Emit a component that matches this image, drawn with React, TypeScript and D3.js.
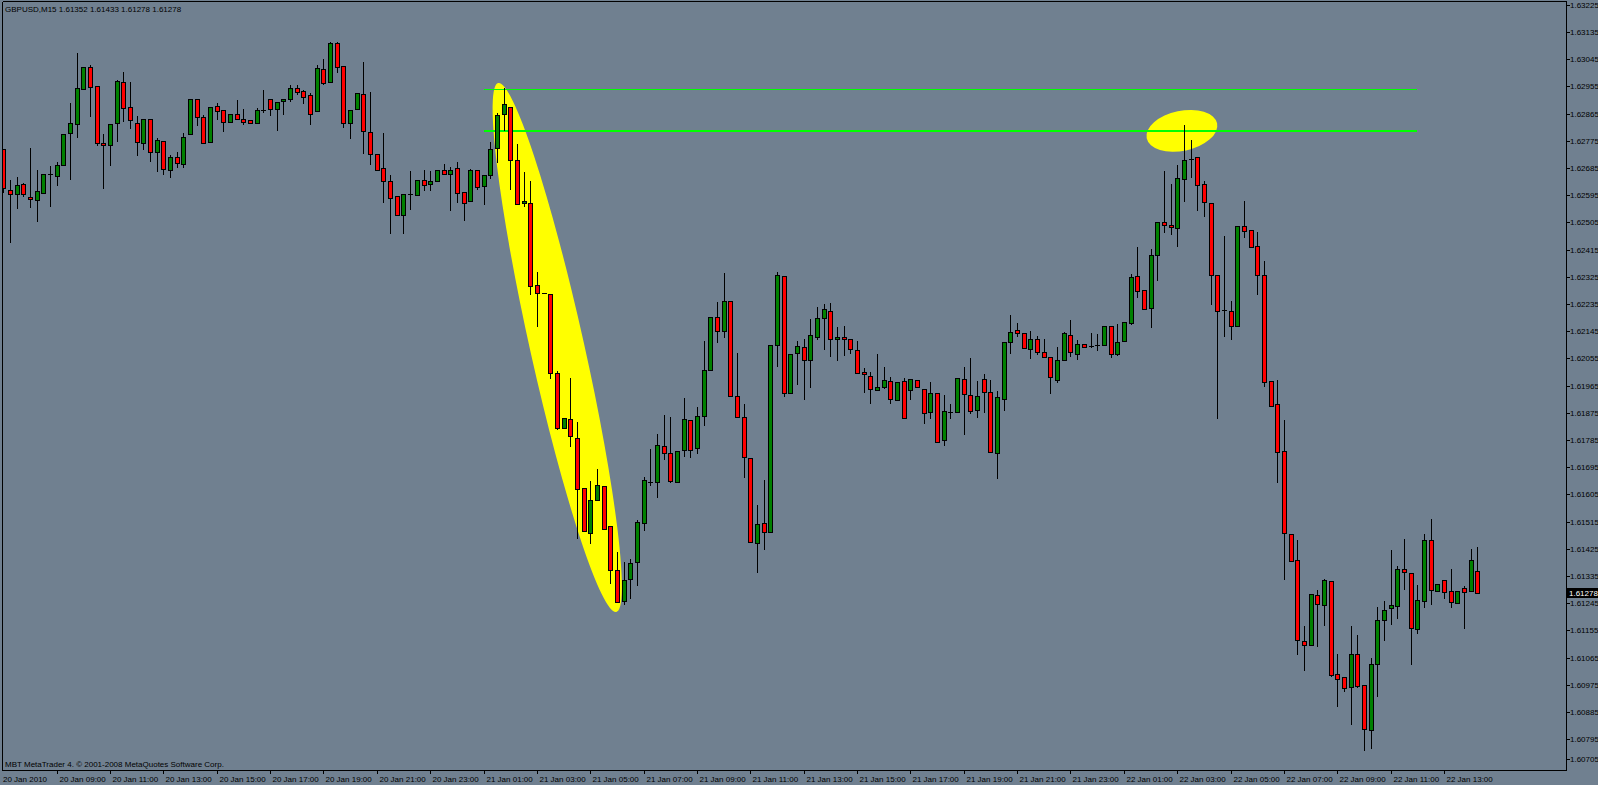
import React from 'react';
import * as d3 from 'd3';

const W = 1598;
const H = 785;

const headerText = 'GBPUSD,M15  1.61352 1.61433 1.61278 1.61278';
const footerText = 'MBT MetaTrader 4. \u00A9 2001-2008 MetaQuotes Software Corp.';

const timeLabels = [
  '20 Jan 2010', '20 Jan 09:00', '20 Jan 11:00', '20 Jan 13:00', '20 Jan 15:00', '20 Jan 17:00',
  '20 Jan 19:00', '20 Jan 21:00', '20 Jan 23:00', '21 Jan 01:00', '21 Jan 03:00', '21 Jan 05:00',
  '21 Jan 07:00', '21 Jan 09:00', '21 Jan 11:00', '21 Jan 13:00', '21 Jan 15:00', '21 Jan 17:00',
  '21 Jan 19:00', '21 Jan 21:00', '21 Jan 23:00', '22 Jan 01:00', '22 Jan 03:00', '22 Jan 05:00',
  '22 Jan 07:00', '22 Jan 09:00', '22 Jan 11:00', '22 Jan 13:00',
];
const barsPerLabel = 8;

const priceTicks = [
  1.63225, 1.63135, 1.63045, 1.62955, 1.62865, 1.62775, 1.62685, 1.62595, 1.62505, 1.62415,
  1.62325, 1.62235, 1.62145, 1.62055, 1.61965, 1.61875, 1.61785, 1.61695, 1.61605, 1.61515,
  1.61425, 1.61335, 1.61245, 1.61155, 1.61065, 1.60975, 1.60885, 1.60795, 1.60705,
];

const opens = [
  1.62748, 1.62612, 1.62599, 1.62632, 1.62589, 1.62579, 1.62602, 1.62665, 1.62659, 1.62695,
  1.62801, 1.62831, 1.62946, 1.63019, 1.62956, 1.62768, 1.62761, 1.62834, 1.62970, 1.62887,
  1.62834, 1.62768, 1.62847, 1.62738, 1.62774, 1.62679, 1.62721, 1.62698, 1.62798, 1.62913,
  1.62854, 1.62771, 1.62890, 1.62877, 1.62837, 1.62864, 1.62847, 1.62844, 1.62834, 1.62877,
  1.62913, 1.62880, 1.62907, 1.62913, 1.62950, 1.62940, 1.62927, 1.62874, 1.63013, 1.62970,
  1.63099, 1.63023, 1.62834, 1.62880, 1.62930, 1.62804, 1.62731, 1.62685, 1.62642, 1.62592,
  1.62530, 1.62599, 1.62596, 1.62645, 1.62632, 1.62642, 1.62679, 1.62665, 1.62685, 1.62606,
  1.62576, 1.62679, 1.62626, 1.62662, 1.62751, 1.62864, 1.62887, 1.62712, 1.62569, 1.62569,
  1.62298, 1.62271, 1.62268, 1.62007, 1.61825, 1.61854, 1.61792, 1.61626, 1.61477, 1.61587,
  1.61633, 1.61501, 1.61355, 1.61252, 1.61325, 1.61381, 1.61510, 1.61646, 1.61646, 1.61765,
  1.61742, 1.61646, 1.61752, 1.61851, 1.61759, 1.61865, 1.62017, 1.62192, 1.62146, 1.62245,
  1.61931, 1.61861, 1.61726, 1.61444, 1.61510, 1.61481, 1.62099, 1.62328, 1.61941, 1.62073,
  1.62093, 1.62050, 1.62126, 1.62189, 1.62212, 1.62119, 1.62126, 1.62119, 1.62083, 1.62010,
  1.61997, 1.61951, 1.61960, 1.61980, 1.61917, 1.61980, 1.61951, 1.61984, 1.61954, 1.61878,
  1.61941, 1.61785, 1.61878, 1.61878, 1.61987, 1.61934, 1.61884, 1.61987, 1.61944, 1.61742,
  1.61921, 1.62109, 1.62149, 1.62139, 1.62086, 1.62119, 1.62076, 1.62060, 1.61984, 1.62050,
  1.62132, 1.62070, 1.62103, 1.62096, 1.62099, 1.62099, 1.62162, 1.62070, 1.62113, 1.62172,
  1.62328, 1.62281, 1.62222, 1.62397, 1.62506, 1.62497, 1.62487, 1.62649, 1.62715, 1.62721,
  1.62632, 1.62569, 1.62331, 1.62215, 1.62212, 1.62162, 1.62493, 1.62480, 1.62427, 1.62331,
  1.61980, 1.61904, 1.61749, 1.61474, 1.61388, 1.61120, 1.61107, 1.61272, 1.61239, 1.61319,
  1.61011, 1.61001, 1.60968, 1.61077, 1.60974, 1.60825, 1.61044, 1.61189, 1.61229, 1.61236,
  1.61358, 1.61345, 1.61160, 1.61252, 1.61454, 1.61285, 1.61322, 1.61285, 1.61246, 1.61295,
  1.61285, 1.61352,
];

const highs = [
  1.62748, 1.62649, 1.62659, 1.62639, 1.62755, 1.62682, 1.62665, 1.62695, 1.62708, 1.62798,
  1.62903, 1.63069, 1.63019, 1.63029, 1.62956, 1.62801, 1.62831, 1.62980, 1.63006, 1.62973,
  1.62861, 1.62847, 1.62847, 1.62788, 1.62774, 1.62731, 1.62741, 1.62804, 1.62913, 1.62913,
  1.62864, 1.62887, 1.62903, 1.62880, 1.62864, 1.62913, 1.62884, 1.62844, 1.62887, 1.62946,
  1.62913, 1.62903, 1.62913, 1.62963, 1.62963, 1.62946, 1.62937, 1.63029, 1.63049, 1.63105,
  1.63105, 1.63026, 1.62880, 1.62933, 1.63039, 1.62940, 1.62731, 1.62804, 1.62665, 1.62592,
  1.62602, 1.62679, 1.62645, 1.62682, 1.62679, 1.62679, 1.62702, 1.62692, 1.62708, 1.62606,
  1.62685, 1.62679, 1.62665, 1.62774, 1.62870, 1.62953, 1.62887, 1.62768, 1.62675, 1.62645,
  1.62344, 1.62271, 1.62268, 1.62017, 1.61858, 1.61993, 1.61848, 1.61626, 1.61653, 1.61692,
  1.61633, 1.61501, 1.61418, 1.61385, 1.61395, 1.61524, 1.61666, 1.61759, 1.61808, 1.61871,
  1.61865, 1.61749, 1.61927, 1.61854, 1.61898, 1.62116, 1.62192, 1.62245, 1.62341, 1.62245,
  1.62076, 1.61908, 1.61726, 1.61573, 1.61656, 1.62099, 1.62344, 1.62328, 1.62070, 1.62116,
  1.62123, 1.62189, 1.62228, 1.62238, 1.62242, 1.62162, 1.62166, 1.62119, 1.62116, 1.62027,
  1.62013, 1.62073, 1.62030, 1.61997, 1.61977, 1.61993, 1.61990, 1.61984, 1.61954, 1.61980,
  1.61941, 1.61937, 1.61908, 1.61990, 1.62030, 1.62060, 1.61984, 1.62007, 1.61987, 1.61951,
  1.62113, 1.62202, 1.62176, 1.62139, 1.62149, 1.62132, 1.62123, 1.62060, 1.62096, 1.62146,
  1.62185, 1.62119, 1.62103, 1.62142, 1.62139, 1.62162, 1.62166, 1.62172, 1.62176, 1.62338,
  1.62427, 1.62281, 1.62420, 1.62506, 1.62679, 1.62635, 1.62698, 1.62831, 1.62781, 1.62725,
  1.62645, 1.62569, 1.62331, 1.62463, 1.62248, 1.62493, 1.62579, 1.62480, 1.62477, 1.62381,
  1.61980, 1.61987, 1.61854, 1.61474, 1.61457, 1.61173, 1.61276, 1.61292, 1.61328, 1.61322,
  1.61080, 1.61001, 1.61173, 1.61143, 1.60974, 1.61067, 1.61236, 1.61256, 1.61424, 1.61371,
  1.61461, 1.61345, 1.61309, 1.61477, 1.61527, 1.61309, 1.61322, 1.61361, 1.61285, 1.61305,
  1.61428, 1.61433,
];

const lows = [
  1.62606, 1.62440, 1.62553, 1.62592, 1.62556, 1.62510, 1.62602, 1.62559, 1.62629, 1.62695,
  1.62649, 1.62788, 1.62946, 1.62857, 1.62761, 1.62619, 1.62695, 1.62774, 1.62841, 1.62817,
  1.62728, 1.62748, 1.62708, 1.62675, 1.62665, 1.62655, 1.62688, 1.62688, 1.62798, 1.62827,
  1.62768, 1.62771, 1.62847, 1.62808, 1.62837, 1.62847, 1.62831, 1.62834, 1.62834, 1.62870,
  1.62861, 1.62811, 1.62864, 1.62907, 1.62930, 1.62900, 1.62831, 1.62874, 1.62963, 1.62970,
  1.63003, 1.62821, 1.62784, 1.62880, 1.62735, 1.62698, 1.62679, 1.62573, 1.62470, 1.62530,
  1.62470, 1.62549, 1.62596, 1.62612, 1.62612, 1.62642, 1.62665, 1.62546, 1.62573, 1.62513,
  1.62576, 1.62616, 1.62566, 1.62652, 1.62705, 1.62811, 1.62616, 1.62566, 1.62559, 1.62268,
  1.62162, 1.62271, 1.61990, 1.61821, 1.61825, 1.61765, 1.61461, 1.61484, 1.61444, 1.61587,
  1.61491, 1.61312, 1.61249, 1.61242, 1.61262, 1.61305, 1.61487, 1.61636, 1.61596, 1.61722,
  1.61646, 1.61646, 1.61732, 1.61729, 1.61742, 1.61835, 1.62017, 1.62109, 1.62126, 1.61931,
  1.61861, 1.61663, 1.61448, 1.61348, 1.61424, 1.61481, 1.62030, 1.61931, 1.61941, 1.61970,
  1.61921, 1.61960, 1.62119, 1.62086, 1.62063, 1.62050, 1.62066, 1.62073, 1.62007, 1.61944,
  1.61908, 1.61951, 1.61957, 1.61908, 1.61917, 1.61858, 1.61921, 1.61960, 1.61841, 1.61858,
  1.61778, 1.61769, 1.61858, 1.61878, 1.61805, 1.61874, 1.61861, 1.61878, 1.61745, 1.61659,
  1.61884, 1.62073, 1.62129, 1.62090, 1.62056, 1.62070, 1.62060, 1.61941, 1.61977, 1.62050,
  1.62063, 1.62053, 1.62093, 1.62093, 1.62083, 1.62099, 1.62060, 1.62066, 1.62113, 1.62169,
  1.62258, 1.62219, 1.62159, 1.62315, 1.62473, 1.62467, 1.62427, 1.62576, 1.62655, 1.62546,
  1.62526, 1.62235, 1.61858, 1.62129, 1.62119, 1.62162, 1.62457, 1.62424, 1.62268, 1.61964,
  1.61898, 1.61646, 1.61325, 1.61385, 1.61077, 1.61024, 1.61107, 1.61103, 1.61173, 1.61004,
  1.60905, 1.60955, 1.60845, 1.60968, 1.60759, 1.60766, 1.60938, 1.61123, 1.61176, 1.61196,
  1.61292, 1.61044, 1.61146, 1.61232, 1.61242, 1.61285, 1.61262, 1.61232, 1.61246, 1.61163,
  1.61285, 1.61278,
];

const closes = [
  1.62619, 1.62599, 1.62629, 1.62599, 1.62583, 1.62609, 1.62665, 1.62665, 1.62695, 1.62798,
  1.62834, 1.62950, 1.63019, 1.62953, 1.62768, 1.62761, 1.62831, 1.62973, 1.62884, 1.62844,
  1.62771, 1.62847, 1.62738, 1.62778, 1.62682, 1.62721, 1.62702, 1.62788, 1.62913, 1.62854,
  1.62768, 1.62887, 1.62874, 1.62837, 1.62864, 1.62847, 1.62837, 1.62834, 1.62877, 1.62877,
  1.62880, 1.62903, 1.62913, 1.62950, 1.62937, 1.62920, 1.62864, 1.63016, 1.62966, 1.63099,
  1.63019, 1.62834, 1.62877, 1.62933, 1.62808, 1.62731, 1.62679, 1.62642, 1.62586, 1.62530,
  1.62599, 1.62599, 1.62645, 1.62629, 1.62642, 1.62679, 1.62665, 1.62679, 1.62602, 1.62569,
  1.62679, 1.62622, 1.62662, 1.62748, 1.62861, 1.62897, 1.62712, 1.62566, 1.62576, 1.62295,
  1.62271, 1.62271, 1.62007, 1.61825, 1.61858, 1.61798, 1.61623, 1.61484, 1.61587, 1.61636,
  1.61491, 1.61355, 1.61249, 1.61322, 1.61378, 1.61514, 1.61653, 1.61646, 1.61769, 1.61742,
  1.61649, 1.61749, 1.61854, 1.61752, 1.61865, 1.62017, 1.62192, 1.62146, 1.62245, 1.61931,
  1.61861, 1.61729, 1.61448, 1.61507, 1.61481, 1.62099, 1.62331, 1.61941, 1.62070, 1.62096,
  1.62050, 1.62132, 1.62189, 1.62219, 1.62119, 1.62126, 1.62119, 1.62086, 1.62007, 1.62003,
  1.61954, 1.61960, 1.61984, 1.61921, 1.61977, 1.61858, 1.61987, 1.61960, 1.61874, 1.61941,
  1.61778, 1.61881, 1.61878, 1.61990, 1.61937, 1.61881, 1.61931, 1.61944, 1.61745, 1.61927,
  1.62109, 1.62142, 1.62139, 1.62090, 1.62119, 1.62076, 1.62060, 1.61993, 1.62050, 1.62139,
  1.62076, 1.62103, 1.62093, 1.62096, 1.62099, 1.62162, 1.62070, 1.62109, 1.62176, 1.62324,
  1.62278, 1.62219, 1.62397, 1.62506, 1.62497, 1.62490, 1.62652, 1.62712, 1.62715, 1.62629,
  1.62573, 1.62331, 1.62212, 1.62215, 1.62162, 1.62493, 1.62477, 1.62424, 1.62331, 1.61977,
  1.61898, 1.61745, 1.61477, 1.61385, 1.61123, 1.61107, 1.61276, 1.61242, 1.61322, 1.61007,
  1.60994, 1.60964, 1.61077, 1.60971, 1.60829, 1.61044, 1.61189, 1.61222, 1.61239, 1.61358,
  1.61348, 1.61163, 1.61256, 1.61454, 1.61289, 1.61309, 1.61282, 1.61249, 1.61285, 1.61282,
  1.61388, 1.61278,
];

// horizontal levels (price) and the bar range they span
const levelPrices = [1.62946, 1.62808];
const levelBarRange = [72, 212];

// yellow annotation ellipse along the sell-off: tip bars & prices
const swingEllipseBars = [74.2, 91.9];
const swingEllipsePrices = [1.62966, 1.61216];
// small yellow ellipse around the retest
const retestBar = 176.7;
const retestPrice = 1.62808;

const lastPrice = 1.61278;

const BG = '#708090';
const FONT = '"Liberation Sans", Arial, sans-serif';

export default function App() {
  const n = opens.length;
  const plotLeft = 2.5;
  const plotRight = 1566.5;
  const plotTop = 1.5;
  const plotBottom = 770.5;

  const x = d3.scaleLinear().domain([0, n - 1]).range([3.3, 3.3 + 6.67 * (n - 1)]);
  const y = d3.scaleLinear().domain([1.60795, 1.63225]).range([739.2, 4.8]);

  const ex1 = x(swingEllipseBars[0]);
  const ey1 = y(swingEllipsePrices[0]);
  const ex2 = x(swingEllipseBars[1]);
  const ey2 = y(swingEllipsePrices[1]);
  const ecx = (ex1 + ex2) / 2;
  const ecy = (ey1 + ey2) / 2;
  const elen = Math.hypot(ex2 - ex1, ey2 - ey1) / 2;
  const eang = (Math.atan2(ex2 - ex1, ey2 - ey1) * 180) / Math.PI;

  const candles = d3.range(n).map((i) => {
    const o = opens[i];
    const c = closes[i];
    const h = highs[i];
    const l = lows[i];
    const r = Math.round(x(i));
    const wx = r + 0.5;
    const yH = Math.round(y(h)) + 0.5;
    const yL = Math.round(y(l)) + 0.5;
    if (Math.abs(o - c) < 0.000005) {
      const yo = Math.round(y(o)) + 0.5;
      return (
        <g key={i}>
          <line x1={wx} x2={wx} y1={yH} y2={yL} stroke="#000" strokeWidth={1} />
          <line x1={r - 2} x2={r + 3} y1={yo} y2={yo} stroke="#000" strokeWidth={1} />
        </g>
      );
    }
    const up = c > o;
    const yTop = Math.round(y(Math.max(o, c))) + 0.5;
    const yBot = Math.round(y(Math.min(o, c))) + 0.5;
    return (
      <g key={i}>
        <line x1={wx} x2={wx} y1={yH} y2={yL} stroke="#000" strokeWidth={1} />
        <rect
          x={r - 1.5}
          y={yTop}
          width={4}
          height={Math.max(1, yBot - yTop)}
          fill={up ? '#008000' : '#FF0000'}
          stroke="#000"
          strokeWidth={1}
        />
      </g>
    );
  });

  const lastY = y(lastPrice);

  return (
    <svg
      width={W}
      height={H}
      style={{ position: 'fixed', left: 0, top: 0, display: 'block' }}
      fontFamily={FONT}
    >
      <rect x={0} y={0} width={W} height={H} fill={BG} />
      <defs>
        <clipPath id="plot">
          <rect x={plotLeft} y={plotTop} width={plotRight - plotLeft} height={plotBottom - plotTop} />
        </clipPath>
      </defs>

      <g clipPath="url(#plot)">
        <ellipse
          cx={ecx}
          cy={ecy}
          rx={27}
          ry={elen}
          fill="#FFFF00"
          transform={`rotate(${-eang} ${ecx} ${ecy})`}
        />
        <ellipse
          cx={x(retestBar)}
          cy={y(retestPrice)}
          rx={36}
          ry={20}
          fill="#FFFF00"
          transform={`rotate(-12 ${x(retestBar)} ${y(retestPrice)})`}
        />
        {levelPrices.map((p, k) => {
          const yy = Math.round(y(p)) + (k === 0 ? 0.5 : 0);
          return (
            <line
              key={k}
              x1={x(levelBarRange[0])}
              x2={x(levelBarRange[1])}
              y1={yy}
              y2={yy}
              stroke="#00FF00"
              strokeWidth={k === 0 ? 1 : 2}
              shapeRendering="crispEdges"
            />
          );
        })}
        <g shapeRendering="crispEdges">{candles}</g>
      </g>

      <g shapeRendering="crispEdges" stroke="#000" strokeWidth={1} fill="none">
        <line x1={plotLeft} x2={plotLeft} y1={plotTop} y2={plotBottom} />
        <line x1={plotLeft} x2={plotRight} y1={plotTop} y2={plotTop} />
        <line x1={plotRight} x2={plotRight} y1={plotTop} y2={plotBottom} />
        <line x1={plotLeft} x2={plotRight} y1={plotBottom} y2={plotBottom} />
      </g>

      <text x={5} y={12} fontSize={8} fill="#000">{headerText}</text>
      <text x={5} y={767} fontSize={8} fill="#000">{footerText}</text>

      <g>
        {priceTicks.map((p) => {
          const yy = Math.min(Math.round(y(p)), 759);
          return (
            <g key={p}>
              <line x1={plotRight} x2={plotRight + 3} y1={yy + 0.5} y2={yy + 0.5} stroke="#000" shapeRendering="crispEdges" />
              <text x={1570} y={yy + 3} fontSize={8} fill="#000">{p.toFixed(5)}</text>
            </g>
          );
        })}
        <rect x={1567} y={Math.round(lastY) - 5} width={31} height={10} fill="#000" />
        <text x={1569} y={Math.round(lastY) + 3} fontSize={8} fill="#FFF">{lastPrice.toFixed(5)}</text>
      </g>

      <g>
        {timeLabels.map((t, k) => {
          const xx = Math.round(x(k * barsPerLabel)) + 0.5;
          return (
            <g key={t}>
              {k > 0 && (
                <line x1={xx} x2={xx} y1={plotBottom} y2={plotBottom + 3} stroke="#000" shapeRendering="crispEdges" />
              )}
              <text x={k === 0 ? 3 : xx + 2} y={782} fontSize={8} fill="#000">{t}</text>
            </g>
          );
        })}
      </g>
    </svg>
  );
}
